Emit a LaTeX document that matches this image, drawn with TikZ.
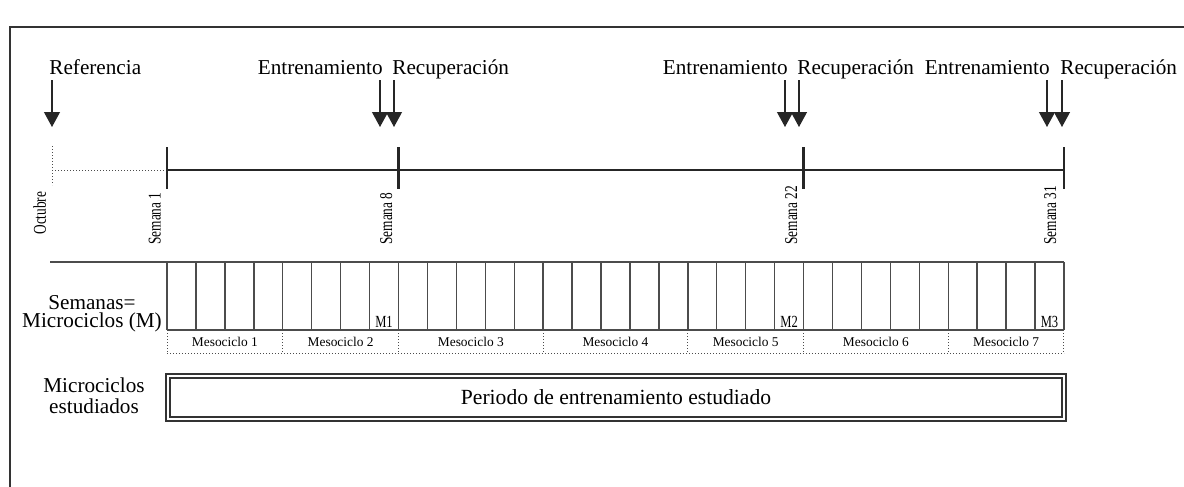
\documentclass[tikz,border=0pt]{standalone}
\usepackage{fontspec}
\setmainfont{Liberation Serif}
\newfontfamily\narrowserif[FakeStretch=0.74]{Liberation Serif}
\usetikzlibrary{arrows.meta}

\tikzset{
  lbl/.style={inner sep=0pt, font=\fontsize{10.6}{12}\selectfont},
  vlbl/.style={inner sep=0pt, rotate=90, anchor=base west, font=\narrowserif\fontsize{9}{10}\selectfont},
  mlbl/.style={inner sep=0pt, anchor=base, font=\narrowserif\fontsize{8.5}{10}\selectfont},
  mesolbl/.style={inner sep=0pt, font=\fontsize{6.7}{8}\selectfont},
  flecha/.style={line width=0.6pt, draw=black!85, fill=black!85, -{Triangle[width=8pt,length=7.5pt]}},
  eje/.style={line width=1.2pt, draw=black!85},
  rejilla/.style={line width=0.7pt, draw=black!70},
  punteado/.style={line width=0.5pt, draw=black!70, dash pattern=on 0.6pt off 0.9pt},
}

\begin{document}
\begin{tikzpicture}[x=0.5pt, y=-0.5pt]
    \useasboundingbox (0,0) rectangle (1184,487);
    % marco
    \draw [line width=0.8pt, black!80] (10,487) -- (10,27) -- (1184,27);

    % linea de tiempo
    \coordinate (oct) at (52,170);
    \foreach \w in {0,8,22,31} \coordinate (t\w) at ({167+\w*28.935},170);
    \draw [punteado] (oct) -- (t0);
    \draw [punteado] (52,146) -- (52,185);
    \draw [eje] (t0) -- (t31);
    \foreach \w in {0,8,22,31} \draw [eje] ({167+\w*28.935},147) -- ({167+\w*28.935},189);

    \node [vlbl] (octubre) at (46,235) {Octubre};
    \node [vlbl] (sem1) at (160.5,245) {Semana 1};
    \node [vlbl] (sem8) at (392,245) {Semana 8};
    \node [vlbl] (sem22) at (797,245) {Semana 22};
    \node [vlbl] (sem31) at (1056,245) {Semana 31};

    % flechas
    \node [lbl, anchor=base west] (ref) at (49,75) {Referencia};
    \coordinate (refa) at (52,80);
    \coordinate (refb) at (52,127);
    \draw [flecha] (refa) -- (refb);
    \foreach \e/\r/\n in {380/394/1, 785/799/2, 1047/1062/3} {
        \node [lbl, anchor=base east] (entr\n) at ({\e+3},75) {Entrenamiento};
        \node [lbl, anchor=base west] (recu\n) at ({\r-2},75) {Recuperación};
        \coordinate (ea\n) at (\e,80);
        \coordinate (eb\n) at (\e,127);
        \coordinate (ra\n) at (\r,80);
        \coordinate (rb\n) at (\r,127);
        \draw [flecha] (ea\n) -- (eb\n);
        \draw [flecha] (ra\n) -- (rb\n);
    }

    % semanas = microciclos
    \node [lbl, align=center, font=\fontsize{10.6}{8.8}\selectfont] (semanas) at (92,314) {Semanas=\\Microciclos (M)};
    \draw [rejilla] (50,262) -- (1064,262);
    \draw [rejilla] (167,330) -- (1064,330);
    \foreach \i in {0,...,31} \draw [rejilla] ({167+\i*28.935},262) -- ({167+\i*28.935},330);
    \node [mlbl] (m1) at ({167+7.5*28.935},327) {M1};
    \node [mlbl] (m2) at ({167+21.5*28.935},327) {M2};
    \node [mlbl] (m3) at ({167+30.5*28.935},327) {M3};

    % mesociclos
    \draw [punteado] (167,353) -- (1064,353);
    \foreach \b in {0,4,8,13,18,22,27,31} \draw [punteado] ({167+\b*28.935},330) -- ({167+\b*28.935},353);
    \foreach \a/\b/\n in {0/4/1,4/8/2,8/13/3,13/18/4,18/22/5,22/27/6,27/31/7}
        \node [mesolbl] (meso\n) at ({167+(\a+\b)/2*28.935},341.5) {Mesociclo \n};

    % periodo estudiado
    \node [lbl, anchor=base] (microest) at (94,392) {Microciclos};
    \node [lbl, anchor=base] (estud) at (94,413) {estudiados};
    \node [draw=black!80, line width=0.8pt, double, double distance=1.2pt,
           minimum width=448pt, minimum height=21.5pt, inner sep=0pt,
           font=\fontsize{10.8}{12}\selectfont] (periodo) at (616,397.5) {Periodo de entrenamiento estudiado};
\end{tikzpicture}
\end{document}
